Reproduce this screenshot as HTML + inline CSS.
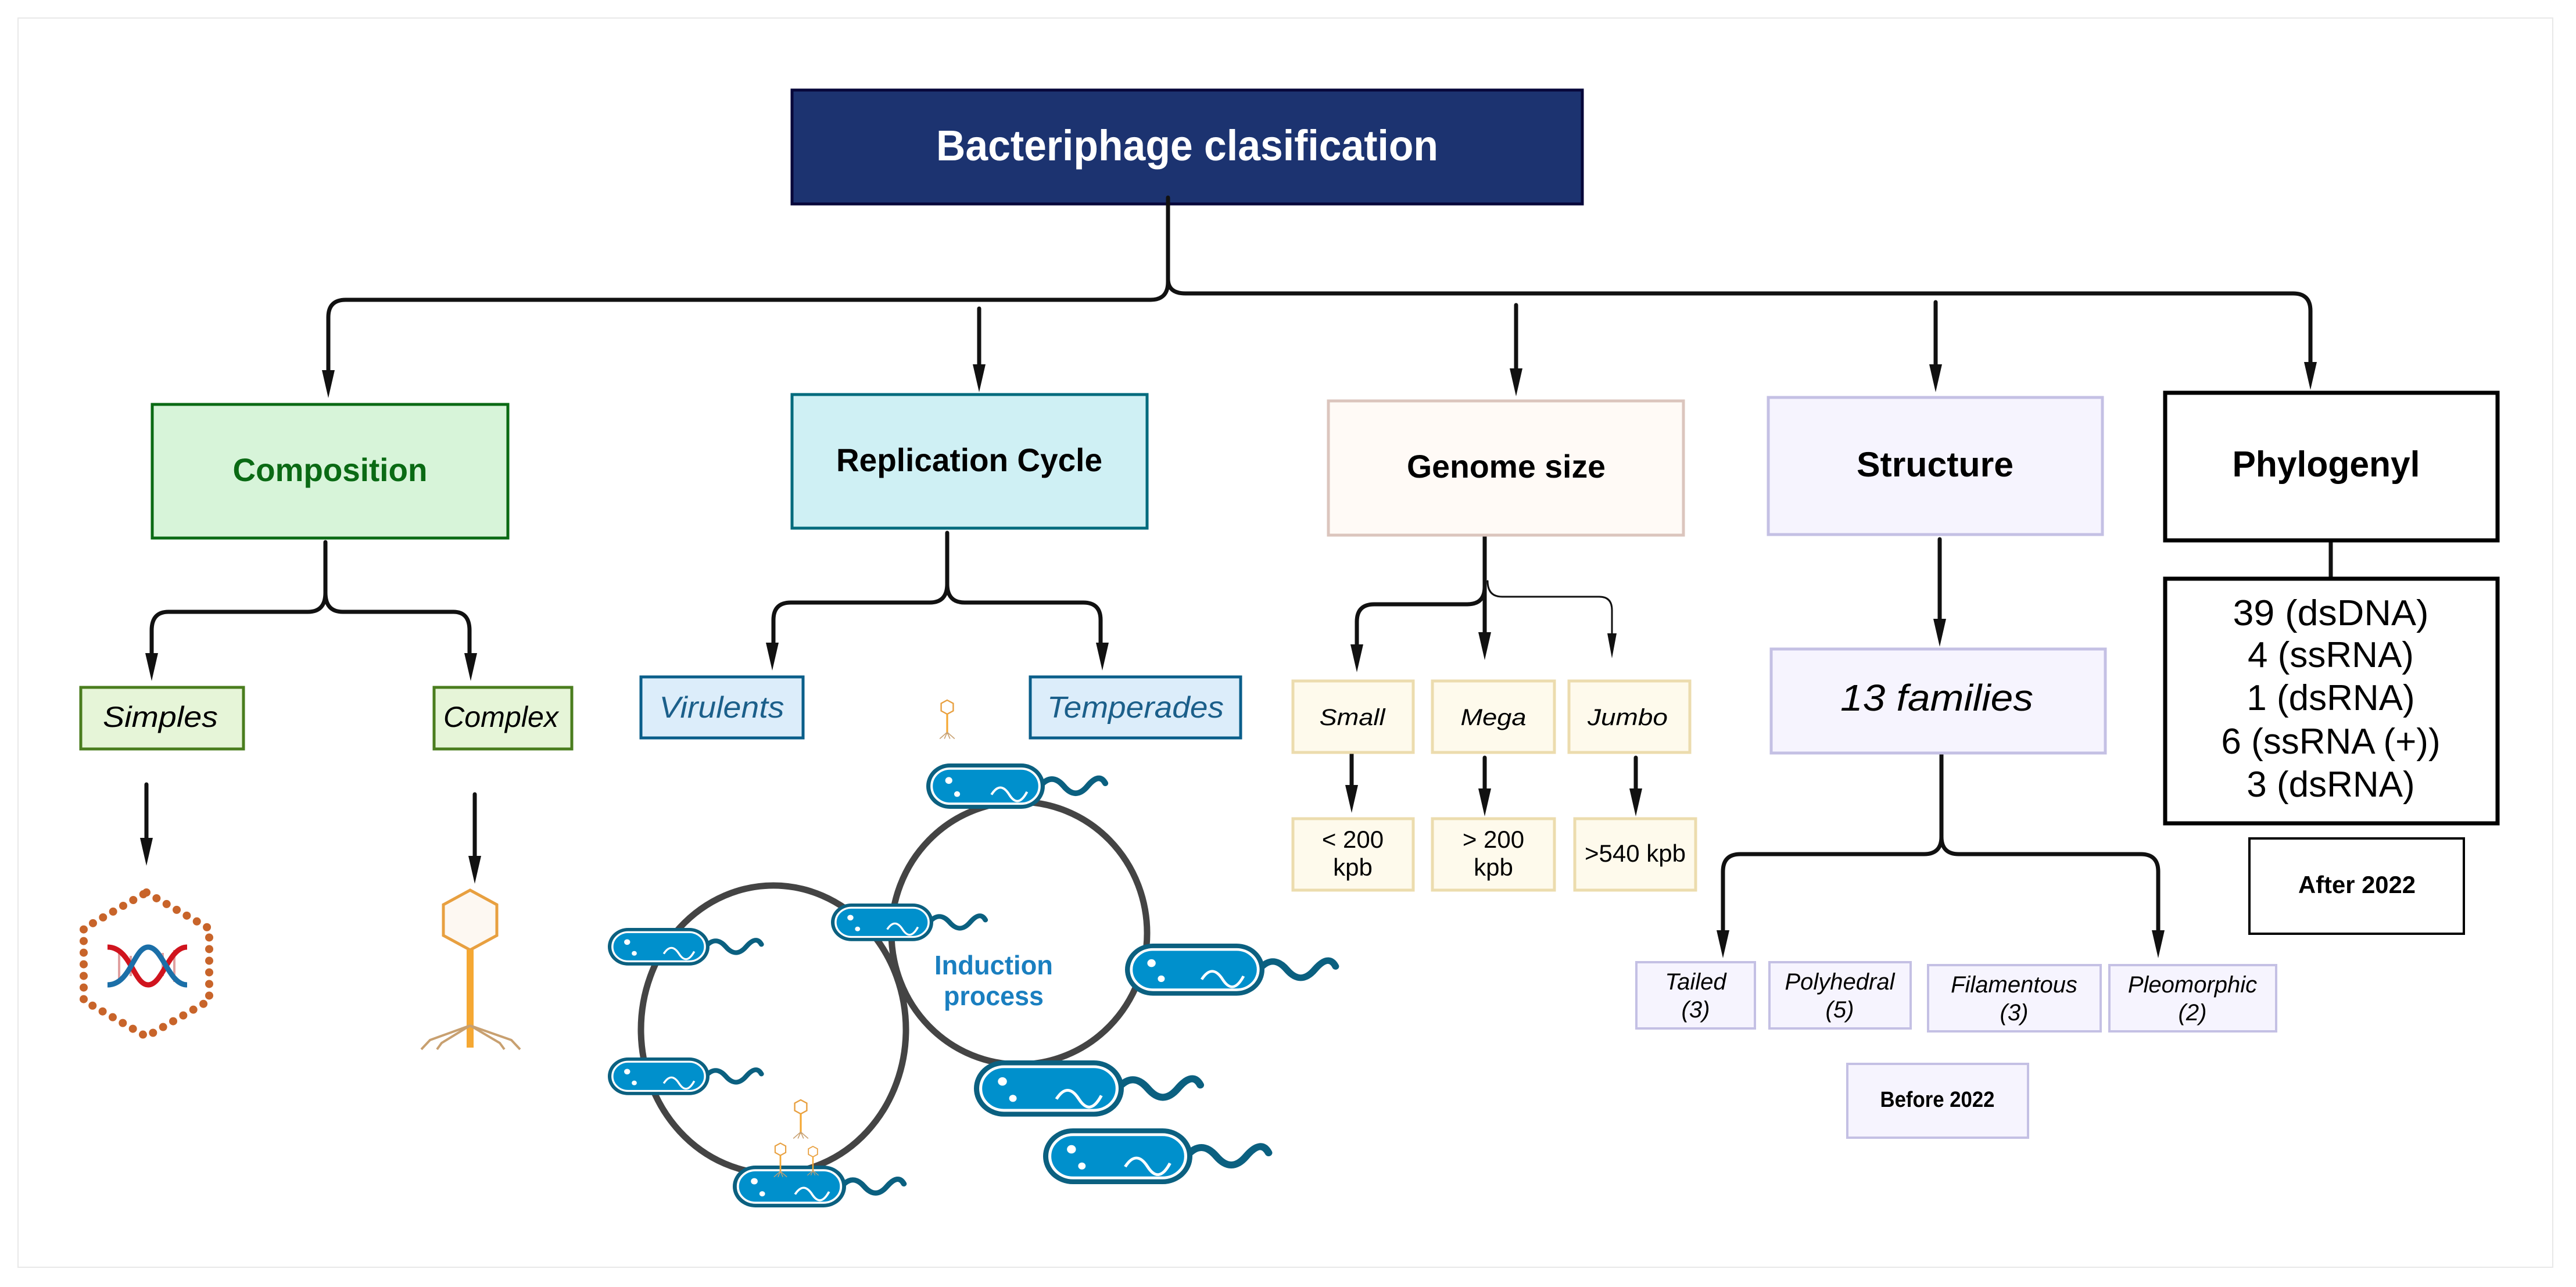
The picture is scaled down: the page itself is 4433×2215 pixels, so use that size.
<!DOCTYPE html>
<html><head><meta charset="utf-8"><style>html,body{margin:0;padding:0;background:#fff}svg{display:block}</style></head>
<body>
<svg xmlns="http://www.w3.org/2000/svg" width="4433" height="2215" viewBox="0 0 4433 2215" font-family="Liberation Sans, Arial, sans-serif">
<rect x="0" y="0" width="4433" height="2215" fill="#fff"/>
<rect x="31" y="31" width="4362" height="2150" fill="#fff" stroke="#e8e8e8" stroke-width="2"/>

<!-- Title -->
<rect x="1363" y="155" width="1360" height="196" fill="#1c3370" stroke="#07073a" stroke-width="5"/>
<text x="2043" y="276" text-anchor="middle" font-size="74" font-weight="bold" fill="#fff" textLength="864" lengthAdjust="spacingAndGlyphs">Bacteriphage clasification</text>

<g fill="none" stroke="#111" stroke-width="7" stroke-linecap="round">
<!-- top trunk -->
<path d="M2010,340 L2010,485 Q2010,516 1980,516 L595,516 Q565,516 565,546 L565,640"/>
<path d="M2010,480 Q2010,505 2040,505 L3946,505 Q3976,505 3976,535 L3976,630"/>
<line x1="1685" y1="531" x2="1685" y2="640"/>
<line x1="2609" y1="525" x2="2609" y2="645"/>
<line x1="3331" y1="520" x2="3331" y2="640"/>
<!-- composition brace -->
<path d="M560,933 L560,1020 Q560,1053 530,1053 L290,1053 Q261,1053 261,1085 L261,1130"/>
<path d="M560,1020 Q560,1053 590,1053 L780,1053 Q808,1053 808,1085 L808,1130"/>
<line x1="252" y1="1350" x2="252" y2="1450"/>
<line x1="817" y1="1367" x2="817" y2="1480"/>
<!-- replication brace -->
<path d="M1630,917 L1630,1005 Q1630,1037 1600,1037 L1361,1037 Q1331,1037 1331,1067 L1331,1112"/>
<path d="M1630,1005 Q1630,1037 1660,1037 L1864,1037 Q1894,1037 1894,1067 L1894,1112"/>
<!-- genome brace -->
<path d="M2555,922 L2555,1010 Q2555,1040 2525,1040 L2365,1040 Q2335,1040 2335,1070 L2335,1115"/>
<line x1="2555" y1="922" x2="2555" y2="1095"/>
<path d="M2560,1000 Q2560,1027 2585,1027 L2752,1027 Q2774,1027 2774,1050 L2774,1100" stroke-width="3"/>
<line x1="2326" y1="1292" x2="2326" y2="1360"/>
<line x1="2555" y1="1304" x2="2555" y2="1365"/>
<line x1="2815" y1="1304" x2="2815" y2="1365"/>
<!-- structure -->
<line x1="3338" y1="928" x2="3338" y2="1075"/>
<path d="M3341,1297 L3341,1440 Q3341,1470 3311,1470 L2995,1470 Q2965,1470 2965,1500 L2965,1608"/>
<path d="M3341,1440 Q3341,1470 3371,1470 L3684,1470 Q3714,1470 3714,1500 L3714,1608"/>
<!-- phylo connector -->
<line x1="4011" y1="931" x2="4011" y2="993"/>
</g>

<!-- arrowheads -->
<g fill="#111">
<polygon points="554,637 576,637 565,685"/>
<polygon points="1674,627 1696,627 1685,675"/>
<polygon points="2598,634 2620,634 2609,682"/>
<polygon points="3320,627 3342,627 3331,675"/>
<polygon points="3965,623 3987,623 3976,671"/>
<polygon points="250,1124 272,1124 261,1172"/>
<polygon points="799,1124 821,1124 810,1172"/>
<polygon points="241,1442 263,1442 252,1490"/>
<polygon points="806,1473 828,1473 817,1521"/>
<polygon points="1318,1106 1340,1106 1329,1154"/>
<polygon points="1886,1106 1908,1106 1897,1154"/>
<polygon points="2324,1109 2346,1109 2335,1157"/>
<polygon points="2544,1088 2566,1088 2555,1136"/>
<polygon points="2766,1090 2782,1090 2774,1133"/>
<polygon points="2315,1351 2337,1351 2326,1399"/>
<polygon points="2544,1357 2566,1357 2555,1405"/>
<polygon points="2804,1357 2826,1357 2815,1405"/>
<polygon points="3327,1065 3349,1065 3338,1113"/>
<polygon points="2954,1601 2976,1601 2965,1649"/>
<polygon points="3703,1601 3725,1601 3714,1649"/>
</g>

<!-- Level-1 boxes -->
<rect x="262" y="696" width="612" height="230" fill="#d7f4d9" stroke="#0a6a14" stroke-width="5"/>
<text x="568" y="828" text-anchor="middle" font-size="56" font-weight="bold" fill="#0a6a14" textLength="335" lengthAdjust="spacingAndGlyphs">Composition</text>
<rect x="1363" y="679" width="611" height="230" fill="#cff0f4" stroke="#006b7d" stroke-width="5"/>
<text x="1668" y="811" text-anchor="middle" font-size="56" font-weight="bold" fill="#000" textLength="458" lengthAdjust="spacingAndGlyphs">Replication Cycle</text>
<rect x="2286" y="690" width="611" height="231" fill="#fffaf6" stroke="#dbc5bd" stroke-width="5"/>
<text x="2592" y="822" text-anchor="middle" font-size="56" font-weight="bold" fill="#000" textLength="342" lengthAdjust="spacingAndGlyphs">Genome size</text>
<rect x="3043" y="684" width="575" height="236" fill="#f6f4fe" stroke="#c4c0e4" stroke-width="5"/>
<text x="3330" y="820" text-anchor="middle" font-size="60" font-weight="bold" fill="#000" textLength="270" lengthAdjust="spacingAndGlyphs">Structure</text>
<rect x="3726" y="676" width="572" height="254" fill="#fff" stroke="#000" stroke-width="7"/>
<text x="4003" y="820" text-anchor="middle" font-size="62" font-weight="bold" fill="#000" textLength="323" lengthAdjust="spacingAndGlyphs">Phylogenyl</text>

<!-- Phylo list -->
<rect x="3726" y="996" width="572" height="421" fill="#fff" stroke="#000" stroke-width="7"/>
<g font-size="62" fill="#000" text-anchor="middle">
<text x="4011" y="1076" textLength="337" lengthAdjust="spacingAndGlyphs">39 (dsDNA)</text>
<text x="4011" y="1148">4 (ssRNA)</text>
<text x="4011" y="1222">1  (dsRNA)</text>
<text x="4011" y="1297">6 (ssRNA (+))</text>
<text x="4011" y="1371">3 (dsRNA)</text>
</g>
<rect x="3871" y="1443" width="369" height="164" fill="#fff" stroke="#000" stroke-width="4"/>
<text x="4056" y="1537" text-anchor="middle" font-size="42" font-weight="bold" textLength="202" lengthAdjust="spacingAndGlyphs">After 2022</text>

<!-- Composition children -->
<rect x="139" y="1183" width="280" height="106" fill="#e6f5d8" stroke="#4a7d1e" stroke-width="5"/>
<text x="276" y="1251" text-anchor="middle" font-size="50" font-style="italic" textLength="198" lengthAdjust="spacingAndGlyphs">Simples</text>
<rect x="747" y="1183" width="237" height="106" fill="#e6f5d8" stroke="#4a7d1e" stroke-width="5"/>
<text x="862" y="1251" text-anchor="middle" font-size="50" font-style="italic" textLength="198" lengthAdjust="spacingAndGlyphs">Complex</text>

<!-- DNA icon -->
<polygon points="252,1536 360,1598 360,1722 252,1784 144,1722 144,1598" fill="none" stroke="#c8642a" stroke-width="14" stroke-dasharray="0 20" stroke-linecap="round"/>
<g fill="none" stroke-width="9">
<g stroke="#e0a0a0" stroke-width="4">
<line x1="205" y1="1640" x2="205" y2="1690"/><line x1="225" y1="1645" x2="225" y2="1680"/><line x1="280" y1="1640" x2="280" y2="1680"/><line x1="300" y1="1635" x2="300" y2="1690"/>
</g>
<path d="M185,1630 C225,1630 230,1695 255,1695 S290,1630 322,1630" stroke="#d0141e"/>
<path d="M185,1695 C225,1695 230,1630 255,1630 S290,1695 322,1695" stroke="#1b6fa8"/>
</g>

<!-- Complex phage -->
<polygon points="809,1532 855,1557 855,1610 809,1635 763,1610 763,1557" fill="#fdf8f2" stroke="#e8a040" stroke-width="5"/>
<rect x="803" y="1635" width="12" height="168" fill="#f5a833"/>
<g stroke="#c8a070" stroke-width="4" fill="none">
<path d="M809,1765 L740,1790 L725,1806"/><path d="M809,1765 L760,1795 L752,1806"/><path d="M809,1765 L860,1795 L868,1806"/><path d="M809,1765 L880,1790 L895,1806"/>
</g>

<!-- Replication children -->
<rect x="1103" y="1165" width="279" height="105" fill="#dcedfa" stroke="#0a5e8a" stroke-width="5"/>
<text x="1242" y="1235" text-anchor="middle" font-size="52" font-style="italic" fill="#1b5f8a" textLength="215" lengthAdjust="spacingAndGlyphs">Virulents</text>
<rect x="1773" y="1165" width="362" height="105" fill="#dcedfa" stroke="#0a5e8a" stroke-width="5"/>
<text x="1954" y="1235" text-anchor="middle" font-size="52" font-style="italic" fill="#1b5f8a" textLength="304" lengthAdjust="spacingAndGlyphs">Temperades</text>

<!-- cycles -->
<ellipse cx="1754" cy="1606" rx="220" ry="226" fill="none" stroke="#444" stroke-width="11"/>
<ellipse cx="1331" cy="1772" rx="228" ry="248" fill="none" stroke="#444" stroke-width="11"/>
<text x="1710" y="1677" text-anchor="middle" font-size="46" font-weight="bold" fill="#1a7fc0" textLength="204" lengthAdjust="spacingAndGlyphs">Induction</text>
<text x="1710" y="1730" text-anchor="middle" font-size="46" font-weight="bold" fill="#1a7fc0" textLength="172" lengthAdjust="spacingAndGlyphs">process</text>

<defs>
<g id="bac">
<path d="M192,40 q20,-25 40,0 t40,0 t30,-5" fill="none" stroke="#0b6080" stroke-width="10" stroke-linecap="round"/>
<rect x="0" y="0" width="200" height="80" rx="40" fill="#0b6080"/>
<rect x="9" y="9" width="182" height="62" rx="31" fill="#0090cc" stroke="#fff" stroke-width="4"/>
<circle cx="38" cy="30" r="6" fill="#fff"/><circle cx="52" cy="54" r="5" fill="#fff"/>
<path d="M110,55 q15,-25 30,0 t30,-5" fill="none" stroke="#fff" stroke-width="4"/>
</g>
<g id="phage">
<polygon points="0,-15 13,-8 13,8 0,15 -13,8 -13,-8" fill="#fff" stroke="#e8a040" stroke-width="3"/>
<line x1="0" y1="15" x2="0" y2="58" stroke="#f5a833" stroke-width="4"/>
<path d="M0,54 L-16,68 M0,54 L-6,68 M0,54 L6,68 M0,54 L16,68" stroke="#c8a070" stroke-width="2" fill="none"/>
</g>
</defs>
<use href="#bac" transform="translate(1594,1314) scale(1.02,0.975)"/>
<use href="#bac" transform="translate(1430,1555) scale(0.88,0.81)"/>
<use href="#bac" transform="translate(1046,1597) scale(0.875,0.81)"/>
<use href="#bac" transform="translate(1046,1820) scale(0.875,0.81)"/>
<use href="#bac" transform="translate(1261,2006) scale(0.975,0.9)"/>
<use href="#bac" transform="translate(1936,1624) scale(1.2,1.12)"/>
<use href="#bac" transform="translate(1676,1825) scale(1.29,1.21)"/>
<use href="#bac" transform="translate(1795,1942) scale(1.285,1.2)"/>
<use href="#phage" transform="translate(1630,1217) scale(0.8)"/>
<use href="#phage" transform="translate(1378,1905) scale(0.8)"/>
<use href="#phage" transform="translate(1343,1978) scale(0.7)"/>
<use href="#phage" transform="translate(1399,1982) scale(0.6)"/>

<!-- Genome children -->
<g fill="#fefaec" stroke="#ecdcae" stroke-width="5">
<rect x="2225" y="1172" width="207" height="123"/>
<rect x="2465" y="1172" width="210" height="123"/>
<rect x="2700" y="1172" width="208" height="123"/>
<rect x="2225" y="1409" width="207" height="123"/>
<rect x="2465" y="1409" width="210" height="123"/>
<rect x="2710" y="1409" width="208" height="123"/>
</g>
<g font-size="40" font-style="italic" text-anchor="middle">
<text x="2327" y="1248" textLength="113" lengthAdjust="spacingAndGlyphs">Small</text>
<text x="2570" y="1248" textLength="113" lengthAdjust="spacingAndGlyphs">Mega</text>
<text x="2801" y="1248" textLength="138" lengthAdjust="spacingAndGlyphs">Jumbo</text>
</g>
<g font-size="42" text-anchor="middle">
<text x="2328" y="1459">&lt; 200</text><text x="2328" y="1507">kpb</text>
<text x="2570" y="1459">&gt; 200</text><text x="2570" y="1507">kpb</text>
<text x="2814" y="1483">&gt;540 kpb</text>
</g>

<!-- Structure children -->
<rect x="3048" y="1117" width="575" height="179" fill="#f6f4fe" stroke="#c4c0e4" stroke-width="5"/>
<text x="3333" y="1223" text-anchor="middle" font-size="64" font-style="italic" textLength="332" lengthAdjust="spacingAndGlyphs">13  families</text>
<g fill="#f6f4fe" stroke="#c4c0e4" stroke-width="4">
<rect x="2816" y="1656" width="204" height="114"/>
<rect x="3045" y="1656" width="243" height="114"/>
<rect x="3318" y="1661" width="297" height="114"/>
<rect x="3630" y="1661" width="287" height="114"/>
<rect x="3179" y="1831" width="311" height="127"/>
</g>
<g font-size="40" font-style="italic" text-anchor="middle">
<text x="2918" y="1703">Tailed</text><text x="2918" y="1751">(3)</text>
<text x="3166" y="1703">Polyhedral</text><text x="3166" y="1751">(5)</text>
<text x="3466" y="1708">Filamentous</text><text x="3466" y="1756">(3)</text>
<text x="3773" y="1708">Pleomorphic</text><text x="3773" y="1756">(2)</text>
</g>
<text x="3334" y="1905" text-anchor="middle" font-size="38" font-weight="bold" textLength="197" lengthAdjust="spacingAndGlyphs">Before 2022</text>
</svg>
</body></html>
